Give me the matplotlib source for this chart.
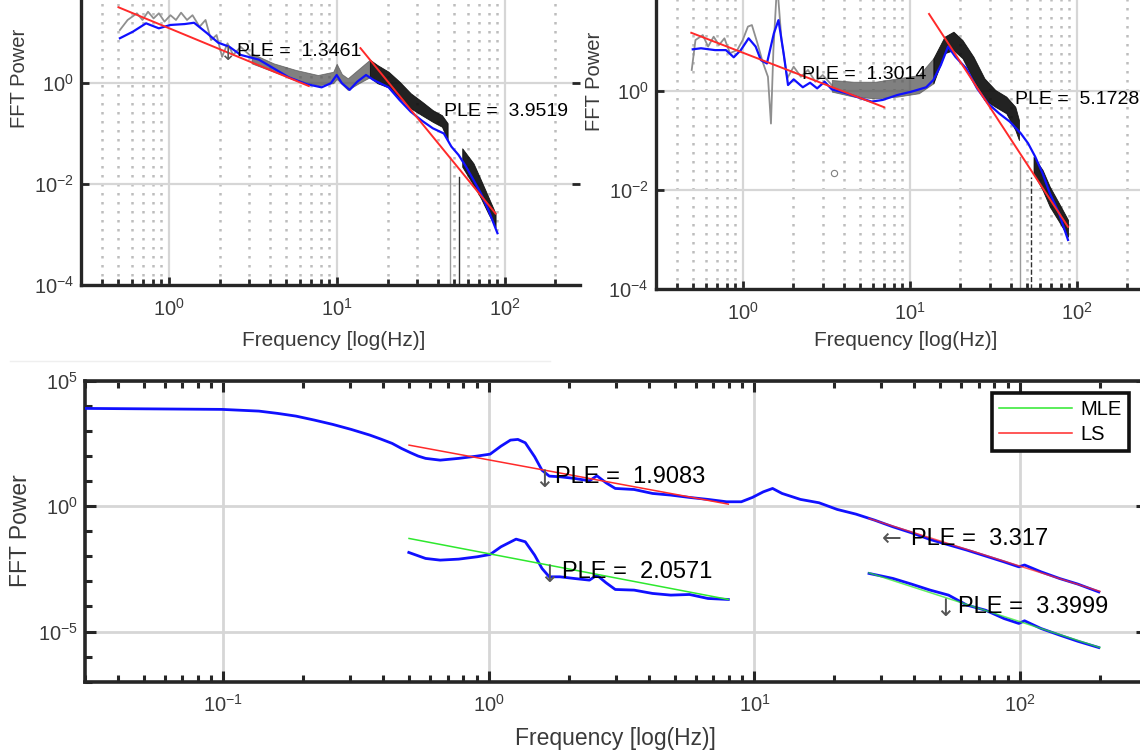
import numpy as np
import matplotlib
matplotlib.use('Agg')
import matplotlib.pyplot as plt
from matplotlib.ticker import FixedLocator, NullLocator, LogLocator, FuncFormatter, NullFormatter

plt.rcParams['font.family'] = ['Liberation Sans', 'DejaVu Sans']
plt.rcParams['mathtext.fontset'] = 'custom'
plt.rcParams['mathtext.rm'] = 'Liberation Sans'
plt.rcParams['mathtext.it'] = 'Liberation Sans'
plt.rcParams['mathtext.default'] = 'regular'

# ---------------- data: top-left panel ----------------
tl_gray_f = [0.51, 0.567, 0.644, 0.695, 0.75, 0.809, 0.87, 0.94, 1.02, 1.10, 1.18, 1.28,
             1.38, 1.52, 1.65, 1.78, 1.92, 2.07, 2.23, 2.41, 2.67, 3.1]
tl_gray_p = [11.2, 17.7, 24, 17.7, 25.8, 19, 24, 16.4, 22, 17.7, 24.7, 17.7,
             22, 13, 17.7, 7.1, 8.9, 3.3, 6.1, 3.6, 5.2, 3.3]
tl_bandA_f = [3.1, 4.2, 5.7, 7.7, 9.5, 9.96, 10.7, 11.6, 13.5, 15.7]
tl_bandA_hi = [3.87, 2.45, 1.81, 1.44, 1.67, 2.4, 1.5, 1.24, 1.9, 2.9]
tl_bandA_lo = [2.45, 1.67, 1.15, 0.91, 0.99, 1.2, 0.95, 0.73, 0.99, 1.3]
tl_bandB_f = [15.7, 17.4, 20.3, 23.6, 27.5, 32, 37.2, 42.2, 45.6]
tl_bandB_hi = [2.9, 2.27, 1.67, 1.06, 0.625, 0.43, 0.29, 0.23, 0.16]
tl_bandB_lo = [1.3, 0.99, 0.82, 0.50, 0.315, 0.23, 0.17, 0.136, 0.074]
tl_bandC_f = [55.7, 65, 72, 79.6, 88]
tl_bandC_hi = [0.051, 0.0257, 0.012, 0.0056, 0.0026]
tl_bandC_lo = [0.022, 0.0095, 0.0052, 0.0026, 0.0014]
tl_blue_f = [0.51, 0.61, 0.73, 0.87, 1.02, 1.24, 1.41, 1.69, 1.96, 2.29, 2.67, 3.43, 4.2,
             5.15, 6.6, 8.1, 9.2, 9.96, 10.7, 11.9, 13.2, 14.9, 16.5, 20.3, 23.6, 27.5,
             32, 37.2, 43.3, 48, 53, 58.7, 65, 72, 79.6, 90.3]
tl_blue_p = [7.7, 10.4, 15.2, 12.1, 14.1, 14.7, 15.6, 9.6, 6.3, 5.2, 3.6, 2.9, 1.95,
             1.3, 0.95, 0.82, 0.99, 1.44, 0.99, 0.73, 1.06, 1.44, 1.15, 0.82, 0.46, 0.27,
             0.18, 0.127, 0.10, 0.055, 0.0375, 0.022, 0.012, 0.0065, 0.0031, 0.00106]
tl_fit1_f = [0.5, 6.8]
tl_fit1_p = [31.6, 0.87]
tl_fit2_f = [13.8, 88]
tl_fit2_p = [4.9, 0.0026]
tl_notch_f = [47, 53]
tl_notch_top = [0.035, 0.014]

# ---------------- data: top-right panel ----------------
tr_gray_f = [0.493, 0.519, 0.574, 0.618, 0.667, 0.718, 0.774, 0.835, 0.923, 0.996, 1.07,
             1.13, 1.22, 1.31, 1.41, 1.47, 1.52, 1.60, 1.70, 1.84, 2.01, 2.22, 2.45, 2.71,
             3.0, 3.4]
tr_gray_p = [2.66, 10.7, 13.5, 7.9, 12.5, 8.5, 11.6, 5.8, 6.7, 10.7, 20, 21.5, 9.2, 3.9,
             1.94, 0.22, 6.7, 150, 10.7, 1.8, 3.1, 1.94, 2.66, 1.54, 2.1, 1.32]
tr_bandA_f = [3.4, 4.59, 6.2, 8.4, 11.3, 13.8]
tr_bandA_hi = [1.67, 1.54, 1.54, 1.8, 2.1, 4.6]
tr_bandA_lo = [0.97, 0.77, 0.71, 0.77, 0.90, 1.43]
tr_bandB_f = [13.8, 16.1, 18.2, 20.6, 24, 27.9, 32.4, 37.7, 42.7, 44.9]
tr_bandB_hi = [4.6, 12.5, 15.8, 10.7, 4.9, 1.8, 1.05, 0.77, 0.48, 0.26]
tr_bandB_lo = [1.43, 5.8, 6.7, 4.6, 1.67, 0.66, 0.48, 0.354, 0.163, 0.102]
tr_bandC_f = [54.9, 62.2, 68.7, 78, 88.3]
tr_bandC_hi = [0.047, 0.0254, 0.0117, 0.0054, 0.0025]
tr_bandC_lo = [0.0217, 0.01, 0.0046, 0.0023, 0.00114]
tr_blue_f = [0.50, 0.56, 0.68, 0.79, 0.88, 0.97, 1.08, 1.19, 1.28, 1.39, 1.53, 1.63, 1.75,
             1.86, 2.01, 2.28, 2.52, 2.78, 3.08, 3.40, 4.15, 5.08, 5.9, 6.86, 8.4, 10.2,
             12.5, 13.8, 15.3, 16.9, 18.7, 21.7, 25.2, 29.3, 34.1, 39.6, 46, 50.9, 56.2,
             62.2, 68.7, 78, 88.3]
tr_blue_p = [6.95, 7.3, 6.7, 6.7, 4.8, 6.7, 11.6, 7.9, 4.2, 3.6, 14.6, 27, 5.8,
             1.32, 1.72, 1.19, 1.47, 1.13, 1.54, 1.08, 0.90, 0.71, 0.61, 0.66, 0.83, 0.97,
             1.19, 1.67, 3.35, 7.9, 4.9, 2.87, 1.13, 0.56, 0.354, 0.24, 0.14, 0.088, 0.047,
             0.0217, 0.0086, 0.0034, 0.00098]
tr_fit1_f = [0.49, 7.0]
tr_fit1_p = [15, 0.47]
tr_fit2_f = [13.0, 88.3]
tr_fit2_p = [36, 0.0018]
tr_notch_f = [45.6, 53]
tr_notch_top = [0.047, 0.0186]
tr_marker = (3.52, 0.0224)

# ---------------- data: bottom panel ----------------
b_main_f = [0.030, 0.0987, 0.136, 0.16, 0.1875, 0.22, 0.258, 0.303, 0.356, 0.392, 0.432,
            0.468, 0.507, 0.541, 0.577, 0.655, 0.769, 0.903, 1.01, 1.11, 1.205, 1.285,
            1.37, 1.486, 1.584, 1.687, 1.85, 2.10, 2.39, 2.55, 2.76, 2.99, 3.52, 4.13,
            4.84, 5.69, 6.68, 7.85, 8.92, 9.82, 10.8, 11.7, 12.7, 14.9, 17.5, 20.5, 24.1,
            28.3, 33.2, 39, 45.8, 63.1, 87, 99, 104, 120, 141, 165, 198]
b_main_p = [7860, 7180, 6140, 4970, 3880, 2690, 1810, 1140, 678, 469, 316,
            200, 134, 99, 80, 68, 80, 99, 118, 247, 428, 456,
            335, 93, 27, 15.7, 14.8, 12.7, 10.2, 16.2, 8.5, 5.06, 4.6, 3.2,
            2.75, 2.22, 1.85, 1.49, 1.49, 2.22, 3.72, 5.06, 3.2, 1.85, 1.36, 0.736, 0.48,
            0.277, 0.15, 0.0866, 0.0469, 0.0176, 0.006, 0.0038, 0.0045, 0.0024, 0.0013,
            0.00078, 0.00038]
b_low1_f = [0.499, 0.577, 0.655, 0.769, 0.903, 1.01, 1.11, 1.265, 1.37, 1.486, 1.584,
            1.687, 1.85, 2.10, 2.39, 2.55, 2.76, 2.99, 3.52, 4.13, 4.84, 5.69, 6.68, 7.97]
b_low1_p = [0.0142, 0.0082, 0.00703, 0.0077, 0.00955, 0.0118, 0.0239, 0.0483, 0.0379,
            0.0111, 0.00327, 0.00152, 0.00152, 0.0013, 0.00112, 0.00177, 0.00088,
            0.000475, 0.000448, 0.00033, 0.000283, 0.0003, 0.000208, 0.00019]
b_low2_f = [27, 30.2, 33.2, 39, 45.8, 53.8, 63.1, 74.1, 87, 99, 104, 120, 141, 165, 198]
b_low2_p = [2.07e-3, 1.62e-3, 1.31e-3, 7.8e-4, 4.5e-4, 2.83e-4, 1.13e-4, 7.1e-5, 3.3e-5,
            2.1e-5, 2.68e-5, 1.32e-5, 7.2e-6, 4.1e-6, 2.3e-6]
b_ls1_f = [0.5, 7.97]
b_ls1_p = [270, 1.2]
b_ls2_f = [27, 200]
b_ls2_p = [0.32, 4.0e-4]
b_mle1_f = [0.5, 7.97]
b_mle1_p = [0.0514, 1.9e-4]
b_mle2_f = [27, 200]
b_mle2_p = [2.19e-3, 2.3e-6]

ple_top_left = ["1.3461", "3.9519"]
ple_top_right = ["1.3014", "5.1728"]
ple_bottom = ["1.9083", "2.0571", "3.317", "3.3999"]
legend_labels = ["MLE", "LS"]

# ---------------- styling helpers ----------------
W, H = 1140, 755
fig = plt.figure(figsize=(W / 100, H / 100), dpi=100)

def rect(x0, x1, ytop, ybot):
    return [x0 / W, 1 - ybot / H, (x1 - x0) / W, (ybot - ytop) / H]

def pow_fmt(v, pos):
    e = int(round(np.log10(v)))
    return r'$10^{%d}$' % e

SPINE = '#262626'
TXT = '#3a3a3a'
BLUE = '#1010ff'
RED = '#ff2a2a'
GREEN = '#2ee82e'
ARROW_FONT = ['DejaVu Sans']

def style_top(ax, xmax):
    ax.set_xscale('log'); ax.set_yscale('log')
    ax.set_xlim(0.3, xmax); ax.set_ylim(1e-4, 1e2)
    ax.xaxis.set_major_locator(FixedLocator([1, 10, 100]))
    ax.xaxis.set_minor_locator(LogLocator(base=10, subs=np.arange(2, 10)))
    ax.xaxis.set_minor_formatter(NullFormatter())
    ax.xaxis.set_major_formatter(FuncFormatter(pow_fmt))
    ax.yaxis.set_major_locator(FixedLocator([1e-4, 1e-2, 1]))
    ax.yaxis.set_minor_locator(NullLocator())
    ax.yaxis.set_major_formatter(FuncFormatter(pow_fmt))
    ax.set_axisbelow(True)
    ax.grid(True, which='major', color='#d6d6d6', lw=1.6, ls='-')
    ax.grid(True, which='minor', axis='x', color='#bdbdbd', lw=1.8, ls=(0, (1, 2.6)))
    for s in ['top', 'right']:
        ax.spines[s].set_visible(False)
    for s in ['left', 'bottom']:
        ax.spines[s].set_linewidth(2.4); ax.spines[s].set_color(SPINE)
    ax.tick_params(which='both', direction='in', color=SPINE, width=2.0,
                   labelsize=14.5, labelcolor=TXT, right=True, top=False)
    ax.tick_params(which='major', length=6, pad=9)
    ax.tick_params(which='minor', length=4)
    ax.tick_params(axis='y', pad=5)

def bands(ax, f, hi, lo, color, alpha):
    ax.fill_between(f, lo, hi, color=color, alpha=alpha, lw=0.6, edgecolor=color, zorder=2)

# ---------------- top-left ----------------
ax1 = fig.add_axes(rect(81.2, 580, -18, 285))
style_top(ax1, 280)
ax1.plot(tl_gray_f, tl_gray_p, color='#8f8f8f', lw=1.3, zorder=2)
bands(ax1, tl_bandA_f, tl_bandA_hi, tl_bandA_lo, '#555555', 0.75)
bands(ax1, tl_bandB_f, tl_bandB_hi, tl_bandB_lo, '#0a0a0a', 0.9)
bands(ax1, tl_bandC_f, tl_bandC_hi, tl_bandC_lo, '#0a0a0a', 0.9)
for f, top, c in zip(tl_notch_f, tl_notch_top, ['#9a9a9a', '#303030']):
    ax1.plot([f, f], [1e-4, top], color=c, lw=1.0, zorder=2)
ax1.plot(tl_blue_f, tl_blue_p, color=BLUE, lw=1.6, zorder=3)
ax1.plot(tl_fit1_f, tl_fit1_p, color=RED, lw=1.4, zorder=4)
ax1.plot(tl_fit2_f, tl_fit2_p, color=RED, lw=1.4, zorder=4)
ax1.text(2.25, 3.6, '\u2193', fontsize=14, color='#555555', ha='center', va='center',
         family=ARROW_FONT, zorder=5)
ax1.text(2.54, 4.17, 'PLE =  ' + ple_top_left[0], fontsize=14, color='black',
         ha='left', va='center', zorder=5)
ax1.text(43.4, 0.27, 'PLE =  ' + ple_top_left[1], fontsize=14, color='black',
         ha='left', va='center', zorder=5)

# ---------------- top-right ----------------
ax2 = fig.add_axes(rect(655.7, 1156.7, -8, 289))
style_top(ax2, 300)
ax2.plot(tr_gray_f, tr_gray_p, color='#8f8f8f', lw=1.3, zorder=2)
bands(ax2, tr_bandA_f, tr_bandA_hi, tr_bandA_lo, '#555555', 0.75)
bands(ax2, tr_bandB_f, tr_bandB_hi, tr_bandB_lo, '#0a0a0a', 0.9)
bands(ax2, tr_bandC_f, tr_bandC_hi, tr_bandC_lo, '#0a0a0a', 0.9)
for f, top, c, ls in zip(tr_notch_f, tr_notch_top, ['#9a9a9a', '#303030'], ['-', '--']):
    ax2.plot([f, f], [1e-4, top], color=c, lw=1.0, ls=ls, zorder=2)
ax2.plot([tr_marker[0]], [tr_marker[1]], 'o', mfc='none', mec='#808080', ms=4.5, mew=0.8)
ax2.plot(tr_blue_f, tr_blue_p, color=BLUE, lw=1.6, zorder=3)
ax2.plot(tr_fit1_f, tr_fit1_p, color=RED, lw=1.4, zorder=4)
ax2.plot(tr_fit2_f, tr_fit2_p, color=RED, lw=1.4, zorder=4)
ax2.text(2.27, 2.2, 'PLE =  ' + ple_top_right[0], fontsize=14, color='black',
         ha='left', va='center', zorder=5)
ax2.text(42.5, 0.66, 'PLE =  ' + ple_top_right[1], fontsize=14, color='black',
         ha='left', va='center', zorder=5)

fig.text(19.5 / W, 1 - 78 / H, 'FFT Power', rotation=90, ha='center', va='center',
         fontsize=14.5, color=TXT)
fig.text(594.5 / W, 1 - 81 / H, 'FFT Power', rotation=90, ha='center', va='center',
         fontsize=14.5, color=TXT)
fig.text(333.5 / W, 1 - 340 / H, 'Frequency [log(Hz)]', ha='center', va='center',
         fontsize=15, color=TXT)
fig.text(906 / W, 1 - 340 / H, 'Frequency [log(Hz)]', ha='center', va='center',
         fontsize=15, color=TXT)

# faint separator
fig.add_artist(plt.Line2D([10 / W, 550 / W], [1 - 361 / H, 1 - 361 / H],
                          color='#efefef', lw=1.0))

# ---------------- bottom ----------------
ax3 = fig.add_axes(rect(84.6, 1146.7, 380.7, 681.7))
ax3.set_xscale('log'); ax3.set_yscale('log')
ax3.set_xlim(0.03, 300); ax3.set_ylim(1e-7, 1e5)
ax3.xaxis.set_major_locator(FixedLocator([0.1, 1, 10, 100]))
ax3.xaxis.set_minor_locator(LogLocator(base=10, subs=np.arange(2, 10)))
ax3.xaxis.set_minor_formatter(NullFormatter())
ax3.xaxis.set_major_formatter(FuncFormatter(pow_fmt))
ax3.yaxis.set_major_locator(FixedLocator([1e-5, 1, 1e5]))
ax3.yaxis.set_minor_locator(FixedLocator([10.0 ** k for k in range(-7, 6)]))
ax3.yaxis.set_minor_formatter(NullFormatter())
ax3.yaxis.set_major_formatter(FuncFormatter(pow_fmt))
ax3.set_axisbelow(True)
ax3.grid(True, which='major', color='#d6d6d6', lw=2.0, ls='-')
for s in ax3.spines.values():
    s.set_linewidth(2.6); s.set_color(SPINE)
ax3.tick_params(which='both', direction='in', color=SPINE, width=2.2,
                labelsize=14.5, labelcolor=TXT, top=True, right=True)
ax3.tick_params(which='major', length=8, pad=9)
ax3.tick_params(which='minor', length=5)
ax3.tick_params(axis='y', pad=5)

ax3.plot(b_main_f, b_main_p, color=BLUE, lw=2.0, zorder=3)
ax3.plot(b_low1_f, b_low1_p, color=BLUE, lw=2.0, zorder=3)
ax3.plot(b_low2_f, b_low2_p, color=BLUE, lw=2.0, zorder=3)
ax3.plot(b_mle1_f, b_mle1_p, color=GREEN, lw=1.1, zorder=4, label=legend_labels[0])
ax3.plot(b_mle2_f, b_mle2_p, color=GREEN, lw=1.1, zorder=4, alpha=0.75)
ax3.plot(b_ls1_f, b_ls1_p, color=RED, lw=1.1, zorder=4, label=legend_labels[1])
ax3.plot(b_ls2_f, b_ls2_p, color=RED, lw=1.1, zorder=4, alpha=0.75)

arrow_kw = dict(fontsize=17, color='#555555', ha='center', va='center', zorder=5,
                family=ARROW_FONT)
txt_kw = dict(fontsize=17, color='black', ha='left', va='center', zorder=5)
ax3.text(1.61, 11.0, '\u2193', **arrow_kw)
ax3.text(1.77, 14.7, 'PLE =  ' + ple_bottom[0], **txt_kw)
ax3.text(1.68, 1.8e-3, '\u2193', **arrow_kw)
ax3.text(1.88, 2.4e-3, 'PLE =  ' + ple_bottom[1], **txt_kw)
ax3.text(33, 0.0483, '\u2190', **arrow_kw)
ax3.text(38.8, 0.0483, 'PLE =  ' + ple_bottom[2], **txt_kw)
ax3.text(52.2, 7.6e-5, '\u2193', **arrow_kw)
ax3.text(58.4, 9.7e-5, 'PLE =  ' + ple_bottom[3], **txt_kw)

leg = ax3.legend(loc='upper right', bbox_to_anchor=(1129 / W, 1 - 393.3 / H),
                 bbox_transform=fig.transFigure, borderaxespad=0, frameon=True,
                 fancybox=False, fontsize=14.5, handlelength=3.6, handletextpad=0.45,
                 labelspacing=0.3, borderpad=0.35)
leg.get_frame().set_edgecolor('#111111')
leg.get_frame().set_linewidth(2.6)
leg.get_frame().set_alpha(1)

fig.text(21 / W, 1 - 531 / H, 'FFT Power', rotation=90, ha='center', va='center',
         fontsize=16.5, color=TXT)
fig.text(615.5 / W, 1 - 738 / H, 'Frequency [log(Hz)]', ha='center', va='center',
         fontsize=16.5, color=TXT)

fig.savefig('out.png', dpi=100)
